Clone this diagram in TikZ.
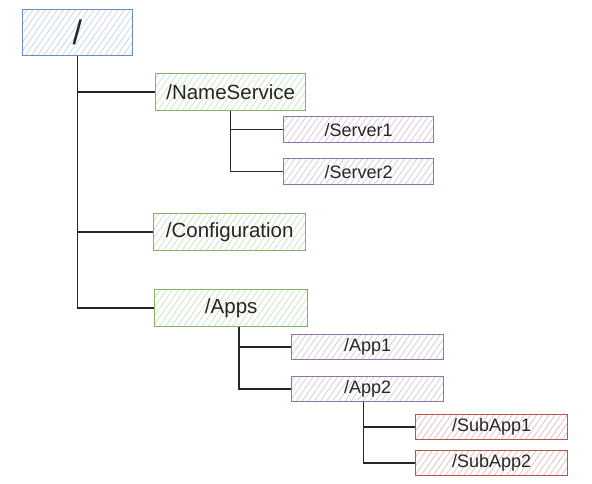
\documentclass[tikz,border=0pt]{standalone}
\usepackage{fontspec}
\setmainfont{Liberation Sans}
\usetikzlibrary{patterns.meta}
\definecolor{rootline}{HTML}{6C8EBF}
\definecolor{dirline}{HTML}{82B366}
\definecolor{leafline}{HTML}{9673A6}
\definecolor{subline}{HTML}{B85450}
\begin{document}
\begin{tikzpicture}[x=1pt, y=-1pt,
    box/.style={draw, line width=1.4pt, anchor=north west, inner sep=0pt, text=black!85,
      pattern={Lines[angle=55,distance=5pt,line width=0.7pt]}},
    rootbox/.style={box, draw=rootline, pattern color=rootline!40,
      minimum width=110, minimum height=46, font=\fontsize{34}{34}\selectfont},
    dirbox/.style={box, draw=dirline, pattern color=dirline!40,
      minimum height=37, font=\fontsize{20.5}{21}\selectfont},
    leafbox/.style={box, draw=leafline, pattern color=leafline!40,
      minimum width=150, minimum height=26, font=\fontsize{18}{18}\selectfont},
    subbox/.style={box, draw=subline, pattern color=subline!40,
      minimum width=152, minimum height=25, font=\fontsize{18}{18}\selectfont},
    branch/.style={draw, line width=1.5pt, black!85}]
    \useasboundingbox (0,0) rectangle (592,484);
    % root and first level
    \node[rootbox] (root) at (22,9) {/};
    \node[dirbox, minimum width=150] (names) at (155,73) {/NameService};
    \node[dirbox, minimum width=152] (config) at (153,213) {/Configuration};
    \node[dirbox, minimum width=153] (apps) at (154,289) {/Apps};
    % leaves
    \node[leafbox] (server1) at (283,116) {/Server1};
    \node[leafbox] (server2) at (283,158) {/Server2};
    \node[leafbox, minimum width=152, minimum height=25] (app1) at (291,334) {/App1};
    \node[leafbox, minimum width=152, minimum height=25] (app2) at (291,376) {/App2};
    \node[subbox] (subapp1) at (415,414) {/SubApp1};
    \node[subbox] (subapp2) at (415,450) {/SubApp2};
    % connectors
    \path[branch] (root.south) |- (names.west)
        (root.south) |- (config.west)
        (root.south) |- (apps.west);
    \path[branch] (names.south) |- (server1.west)
        (names.south) |- (server2.west);
    \path[branch] ([xshift=8]apps.south) |- (app1.west)
        ([xshift=8]apps.south) |- (app2.west);
    \path[branch] ([xshift=-4]app2.south) |- (subapp1.west)
        ([xshift=-4]app2.south) |- (subapp2.west);
\end{tikzpicture}
\end{document}
